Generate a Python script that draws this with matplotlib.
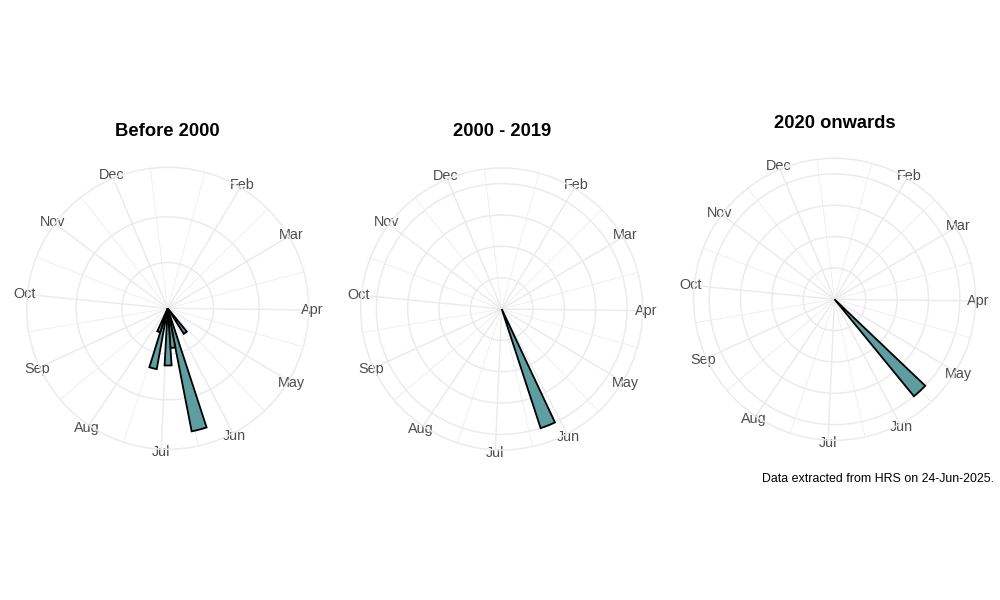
import numpy as np
import matplotlib
matplotlib.use("Agg")
import matplotlib.pyplot as plt

plt.rcParams['font.family'] = ['Liberation Sans', 'DejaVu Sans']

# ---------------- data ----------------
month_labels = ['Feb', 'Mar', 'Apr', 'May', 'Jun', 'Jul', 'Aug', 'Sep', 'Oct', 'Nov', 'Dec']
month_start_doy = [32, 60, 91, 121, 152, 182, 213, 244, 274, 305, 335]
year_edges_doy = [1, 366]   # Jan 1 of this and next year (used for minor grid)

panel_titles = ['Before 2000', '2000 - 2019', '2020 onwards']

# weekly bins (centre day-of-year) and share of events
before_2000_doy = [144, 165, 172, 179, 193, 200]
before_2000_share = [0.066, 0.274, 0.087, 0.125, 0.135, 0.055]

y2000_2019_doy = [158]
y2000_2019_share = [1.0]

y2020_on_doy = [137]
y2020_on_share = [1.0]

ring_breaks_before = [0.1, 0.2]
ring_breaks_later = [0.25, 0.5, 0.75, 1.0]

caption = 'Data extracted from HRS on 24-Jun-2025.'

# ---------------- scale / style ----------------
X_MIN, X_MAX = 1.3, 357.5        # theta range of the day-of-year scale
BIN_DAYS = 7
GRID = '#EBEBEB'
FILL = '#5F9EA0'


def to_theta(day):
    return (np.asarray(day, dtype=float) - X_MIN) / (X_MAX - X_MIN) * 2 * np.pi


all_starts = [year_edges_doy[0]] + month_start_doy + [year_edges_doy[1]]
minor_doy = [(a + b) / 2 for a, b in zip(all_starts[:-1], all_starts[1:])]
minor_doy = [d for d in minor_doy if X_MIN <= d <= X_MAX]

fig = plt.figure(figsize=(10, 6), dpi=100)

R_PX = 141
centers_px = [(167.7, 308.3), (501.7, 309.0), (834.5, 299.3)]
title_y_px = [132, 132, 123]
panels = [
    (before_2000_doy, before_2000_share, ring_breaks_before),
    (y2000_2019_doy, y2000_2019_share, ring_breaks_later),
    (y2020_on_doy, y2020_on_share, ring_breaks_later),
]

for (cx, cy), ty, title, (days, vals, rings) in zip(centers_px, title_y_px, panel_titles, panels):
    left = (cx - R_PX) / 1000
    bottom = (600 - cy - R_PX) / 600
    ax = fig.add_axes([left, bottom, 2 * R_PX / 1000, 2 * R_PX / 600], projection='polar')
    ax.set_theta_zero_location('N')
    ax.set_theta_direction(-1)
    ax.set_axisbelow(True)
    rmax = max(vals)
    ax.set_ylim(0, rmax * 0.45 / 0.4)
    ax.set_xlim(0, 2 * np.pi)

    ax.set_xticks(to_theta(month_start_doy))
    ax.set_xticklabels(month_labels)
    ax.set_xticks(to_theta(minor_doy), minor=True)
    ax.set_yticks(rings)
    ax.set_yticklabels([])

    ax.xaxis.grid(True, which='major', color=GRID, linewidth=1.07)
    ax.xaxis.grid(True, which='minor', color=GRID, linewidth=0.55)
    ax.yaxis.grid(True, which='major', color=GRID, linewidth=1.07)
    ax.spines['polar'].set_color(GRID)
    ax.spines['polar'].set_linewidth(1.07)
    ax.tick_params(axis='x', which='both', length=0, pad=-4.7,
                   labelsize=10.4, labelcolor='#4D4D4D')
    ax.tick_params(axis='y', length=0)

    ax.bar(to_theta(days), vals, width=BIN_DAYS / (X_MAX - X_MIN) * 2 * np.pi,
           bottom=0, align='center', color=FILL, edgecolor='black',
           linewidth=1.3, zorder=3)

    fig.text(cx / 1000, 1 - ty / 600, title, ha='center', va='center',
             fontsize=13.2, fontweight='bold', color='black')

fig.text(994 / 1000, 1 - 481.5 / 600, caption, ha='right', va='baseline',
         fontsize=8.9, color='black')

fig.savefig('out.png', dpi=100, facecolor='white')
